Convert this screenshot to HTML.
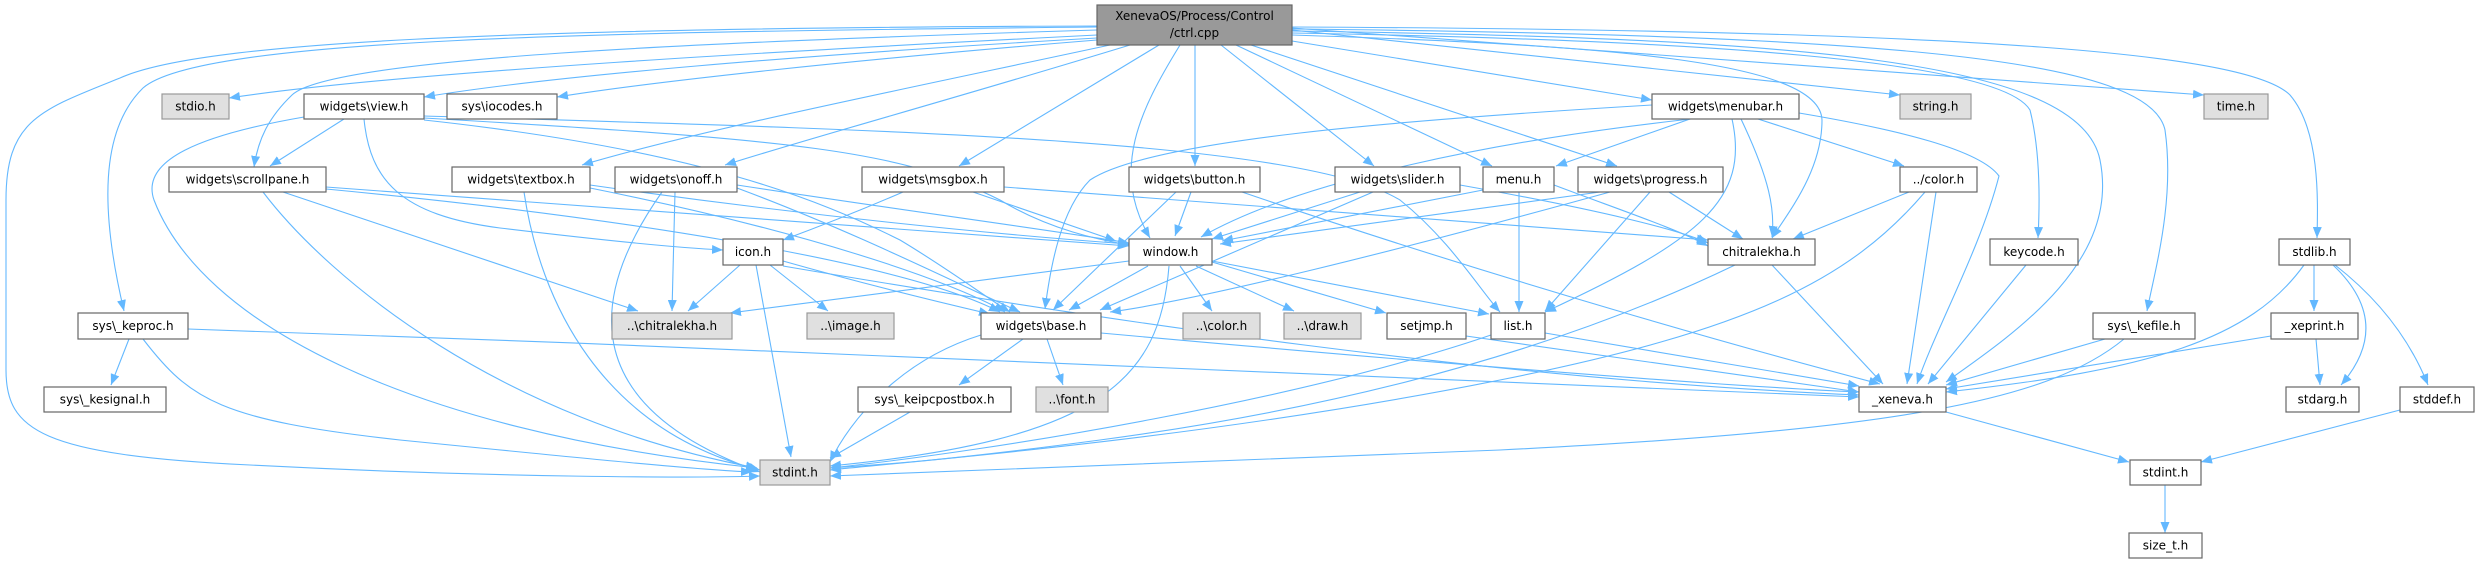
<!DOCTYPE html>
<html><head><meta charset="utf-8"><style>
html,body{margin:0;padding:0;background:#fff;}
svg{display:block}
text{font-family:"DejaVu Sans","Liberation Sans",sans-serif;font-size:12px;fill:#000;text-anchor:middle;dominant-baseline:central}
.n rect{fill:#fff;stroke:#666;stroke-width:1.2}
.g rect{fill:#e0e0e0;stroke:#999;stroke-width:1.2}
.e path{fill:none;stroke:#63b8ff;stroke-width:1.1;marker-end:url(#a)}
</style></head><body>
<svg width="2480" height="564" viewBox="0 0 2480 564" xmlns="http://www.w3.org/2000/svg">
<defs><marker id="a" markerUnits="userSpaceOnUse" markerWidth="12" markerHeight="9" refX="11" refY="4.5" orient="auto"><path d="M0,0 L11,4.5 L0,9 z" fill="#63b8ff"/></marker></defs>
<g class="e">
<path d="M1097,35 C800,50 400,72 229,98"/>
<path d="M1097,38 C800,55 550,76 424,97"/>
<path d="M1097,40 C850,60 650,82 557,97"/>
<path d="M1097,30 C700,42 330,58 292,95 C268,118 258,140 254,167"/>
<path d="M1097,27 C600,32 200,38 143,88 C100,130 100,210 124,311"/>
<path d="M1097,26 C500,28 200,42 120,78 C40,110 6,120 6,200 L6,370 C6,430 40,455 250,465 C500,478 700,478 760,476"/>
<path d="M1110,45 C900,90 700,130 582,165"/>
<path d="M1130,45 C950,100 820,135 725,165"/>
<path d="M1159,45 L959,166"/>
<path d="M1180,45 C1140,110 1110,170 1150,238"/>
<path d="M1195,45 L1195,166"/>
<path d="M1221,45 L1374,166"/>
<path d="M1236,45 L1492,166"/>
<path d="M1251,45 L1617,166"/>
<path d="M1292,41 L1652,100"/>
<path d="M1292,30 L1900,95"/>
<path d="M1292,28 L2204,95"/>
<path d="M1292,35 C1600,45 1820,60 1822,120 C1822,170 1790,210 1772,238"/>
<path d="M1292,33 C1700,40 2000,60 2030,110 C2040,150 2040,200 2038,238"/>
<path d="M1292,31 C1800,38 2080,60 2100,160 C2120,260 2020,330 1946,382"/>
<path d="M1292,29 C1900,35 2150,60 2165,130 C2175,200 2155,270 2147,311"/>
<path d="M1292,27 C2000,30 2250,55 2290,95 C2320,130 2318,200 2317,238"/>
<path d="M344,119 L270,166"/>
<path d="M304,117 C200,135 140,160 154,200 C200,320 400,430 757,468"/>
<path d="M364,119 C370,180 400,215 500,228 C600,240 680,248 723,250"/>
<path d="M424,118 C800,140 900,150 1000,200 C1050,230 1100,240 1129,245"/>
<path d="M424,120 C700,150 820,200 900,240 C950,270 990,300 1010,312"/>
<path d="M424,116 C900,130 1300,140 1400,200 C1450,240 1480,290 1500,312"/>
<path d="M283,192 L638,311"/>
<path d="M263,192 C330,280 500,420 757,468"/>
<path d="M326,187 C700,215 1000,235 1129,246"/>
<path d="M326,189 C600,215 900,260 1000,312"/>
<path d="M524,192 C540,300 600,430 760,470"/>
<path d="M590,185 C800,215 1000,235 1129,244"/>
<path d="M590,188 C800,230 950,280 1005,312"/>
<path d="M675,192 L672,311"/>
<path d="M662,192 C600,280 560,400 760,472"/>
<path d="M737,185 C900,210 1050,230 1129,243"/>
<path d="M737,188 C850,230 950,280 1020,312"/>
<path d="M740,265 L688,311"/>
<path d="M756,265 L791,457"/>
<path d="M770,265 L828,311"/>
<path d="M783,261 C850,280 930,300 990,314"/>
<path d="M783,266 C1100,320 1500,380 1859,395"/>
<path d="M129,339 L111,385"/>
<path d="M143,339 C190,400 220,420 400,440 C600,460 700,470 752,472"/>
<path d="M188,329 C800,350 1500,380 1859,397"/>
<path d="M903,192 C850,215 810,230 783,240"/>
<path d="M973,192 L1116,241"/>
<path d="M1004,187 C1300,210 1600,230 1708,240"/>
<path d="M1176,192 L1053,310"/>
<path d="M1191,192 L1175,236"/>
<path d="M1242,192 C1500,280 1750,350 1880,384"/>
<path d="M1360,192 L1212,239"/>
<path d="M1373,192 L1100,310"/>
<path d="M1460,185 C1600,210 1680,230 1708,243"/>
<path d="M1483,190 L1222,241"/>
<path d="M1519,192 L1519,312"/>
<path d="M1554,185 C1620,210 1680,230 1708,246"/>
<path d="M1600,192 L1220,244"/>
<path d="M1610,192 C1400,250 1200,300 1110,312"/>
<path d="M1650,192 L1545,311"/>
<path d="M1669,192 L1743,239"/>
<path d="M1691,119 C1500,140 1300,180 1201,237"/>
<path d="M1652,105 C1400,120 1150,140 1090,180 C1060,210 1050,270 1045,309"/>
<path d="M1690,119 L1556,166"/>
<path d="M1741,119 C1770,180 1775,210 1772,237"/>
<path d="M1732,119 C1750,200 1700,240 1545,312"/>
<path d="M1758,119 L1904,166"/>
<path d="M1799,113 C1900,130 1980,150 1999,176 C1980,250 1935,330 1917,384"/>
<path d="M1909,192 L1793,239"/>
<path d="M1936,192 L1907,384"/>
<path d="M1925,192 C1850,280 1750,330 1500,380 C1200,440 900,462 830,470"/>
<path d="M1772,265 L1883,384"/>
<path d="M1735,265 C1600,330 1400,400 1100,440 C950,460 880,465 830,468"/>
<path d="M2026,265 L1928,384"/>
<path d="M2314,265 L2314,311"/>
<path d="M2333,265 C2370,300 2380,340 2341,385"/>
<path d="M2335,265 C2380,300 2410,340 2428,385"/>
<path d="M2304,265 C2250,340 2150,370 1946,392"/>
<path d="M2316,339 L2320,385"/>
<path d="M2271,336 L1946,389"/>
<path d="M2105,339 L1946,385"/>
<path d="M2124,339 C2050,400 1900,430 1500,450 C1100,465 900,472 830,476"/>
<path d="M1946,412 L2129,462"/>
<path d="M2400,410 L2201,462"/>
<path d="M2165,485 L2165,533"/>
<path d="M1129,261 L730,313"/>
<path d="M1148,266 L1069,310"/>
<path d="M1180,266 L1212,311"/>
<path d="M1196,266 L1294,311"/>
<path d="M1212,262 L1386,313"/>
<path d="M1212,261 L1489,314"/>
<path d="M1169,266 C1160,380 1100,440 830,466"/>
<path d="M1023,339 L959,385"/>
<path d="M1047,339 L1063,385"/>
<path d="M981,335 C900,360 850,420 830,462"/>
<path d="M1101,333 C1400,360 1700,385 1859,392"/>
<path d="M910,412 L830,458"/>
<path d="M1466,336 L1859,392"/>
<path d="M1545,333 L1859,386"/>
<path d="M1491,335 C1300,400 1000,450 830,468"/>
</g>
<g class="g"><rect x="1097" y="5" width="195" height="40" style="fill:#999;stroke:#666"/></g>
<text x="1194.5" y="16">XenevaOS/Process/Control</text><text x="1194.5" y="33">/ctrl.cpp</text>
<g class="g"><rect x="162" y="94" width="67" height="25"/></g><text x="195.5" y="106.5">stdio.h</text>
<g class="n"><rect x="304" y="94" width="120" height="25"/></g><text x="364" y="106.5">widgets\view.h</text>
<g class="n"><rect x="447" y="94" width="110" height="25"/></g><text x="502" y="106.5">sys\iocodes.h</text>
<g class="n"><rect x="1652" y="94" width="147" height="25"/></g><text x="1725.5" y="106.5">widgets\menubar.h</text>
<g class="g"><rect x="1900" y="94" width="71" height="25"/></g><text x="1935.5" y="106.5">string.h</text>
<g class="g"><rect x="2204" y="94" width="64" height="25"/></g><text x="2236" y="106.5">time.h</text>
<g class="n"><rect x="169" y="167" width="157" height="25"/></g><text x="247.5" y="179.5">widgets\scrollpane.h</text>
<g class="n"><rect x="452" y="167" width="138" height="25"/></g><text x="521" y="179.5">widgets\textbox.h</text>
<g class="n"><rect x="615" y="167" width="122" height="25"/></g><text x="676" y="179.5">widgets\onoff.h</text>
<g class="n"><rect x="862" y="167" width="142" height="25"/></g><text x="933" y="179.5">widgets\msgbox.h</text>
<g class="n"><rect x="1129" y="167" width="131" height="25"/></g><text x="1194.5" y="179.5">widgets\button.h</text>
<g class="n"><rect x="1335" y="167" width="125" height="25"/></g><text x="1397.5" y="179.5">widgets\slider.h</text>
<g class="n"><rect x="1483" y="167" width="71" height="25"/></g><text x="1518.5" y="179.5">menu.h</text>
<g class="n"><rect x="1578" y="167" width="145" height="25"/></g><text x="1650.5" y="179.5">widgets\progress.h</text>
<g class="n"><rect x="1900" y="167" width="77" height="25"/></g><text x="1938.5" y="179.5">../color.h</text>
<g class="n"><rect x="723" y="239" width="60" height="26"/></g><text x="753" y="252">icon.h</text>
<g class="n"><rect x="1129" y="239" width="83" height="26"/></g><text x="1170.5" y="252">window.h</text>
<g class="n"><rect x="1708" y="239" width="107" height="26"/></g><text x="1761.5" y="252">chitralekha.h</text>
<g class="n"><rect x="1990" y="239" width="88" height="26"/></g><text x="2034" y="252">keycode.h</text>
<g class="n"><rect x="2279" y="239" width="71" height="26"/></g><text x="2314.5" y="252">stdlib.h</text>
<g class="n"><rect x="78" y="313" width="110" height="26"/></g><text x="133" y="326">sys\_keproc.h</text>
<g class="g"><rect x="612" y="313" width="120" height="26"/></g><text x="672" y="326">..\chitralekha.h</text>
<g class="g"><rect x="807" y="313" width="87" height="26"/></g><text x="850.5" y="326">..\image.h</text>
<g class="n"><rect x="981" y="313" width="120" height="26"/></g><text x="1041" y="326">widgets\base.h</text>
<g class="g"><rect x="1183" y="313" width="77" height="26"/></g><text x="1221.5" y="326">..\color.h</text>
<g class="g"><rect x="1284" y="313" width="77" height="26"/></g><text x="1322.5" y="326">..\draw.h</text>
<g class="n"><rect x="1387" y="313" width="79" height="26"/></g><text x="1426.5" y="326">setjmp.h</text>
<g class="n"><rect x="1491" y="313" width="54" height="26"/></g><text x="1518" y="326">list.h</text>
<g class="n"><rect x="2093" y="313" width="102" height="26"/></g><text x="2144" y="326">sys\_kefile.h</text>
<g class="n"><rect x="2271" y="313" width="87" height="26"/></g><text x="2314.5" y="326">_xeprint.h</text>
<g class="n"><rect x="44" y="387" width="122" height="25"/></g><text x="105" y="399.5">sys\_kesignal.h</text>
<g class="n"><rect x="858" y="387" width="153" height="25"/></g><text x="934.5" y="399.5">sys\_keipcpostbox.h</text>
<g class="g"><rect x="1036" y="387" width="72" height="25"/></g><text x="1072" y="399.5">..\font.h</text>
<g class="n"><rect x="1859" y="387" width="87" height="25"/></g><text x="1902.5" y="399.5">_xeneva.h</text>
<g class="n"><rect x="2286" y="387" width="73" height="25"/></g><text x="2322.5" y="399.5">stdarg.h</text>
<g class="n"><rect x="2400" y="387" width="74" height="25"/></g><text x="2437" y="399.5">stddef.h</text>
<g class="g"><rect x="760" y="460" width="70" height="25"/></g><text x="795" y="472.5">stdint.h</text>
<g class="n"><rect x="2130" y="460" width="71" height="25"/></g><text x="2165.5" y="472.5">stdint.h</text>
<g class="n"><rect x="2129" y="533" width="73" height="25"/></g><text x="2165.5" y="545.5">size_t.h</text>
</svg>
</body></html>
